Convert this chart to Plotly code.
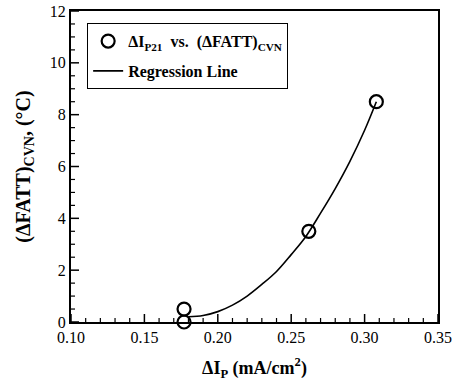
import plotly.graph_objects as go

# data points
dIp = [0.177, 0.177, 0.262, 0.308]
dFATT = [0.0, 0.5, 3.5, 8.5]

# regression line
reg_x = [0.180, 0.19, 0.20, 0.21, 0.22, 0.23, 0.24, 0.25, 0.26, 0.27, 0.28, 0.29, 0.30, 0.308]
reg_y = [0.2, 0.25, 0.4, 0.65, 1.0, 1.45, 1.95, 2.6, 3.3, 4.2, 5.15, 6.2, 7.4, 8.5]

# axis ticks
x_major = [0.10, 0.15, 0.20, 0.25, 0.30, 0.35]
x_minor = [0.11, 0.12, 0.13, 0.14, 0.16, 0.17, 0.18, 0.19, 0.21, 0.22, 0.23, 0.24,
           0.26, 0.27, 0.28, 0.29, 0.31, 0.32, 0.33, 0.34]
y_major = [0, 2, 4, 6, 8, 10, 12]
y_minor = [0.5, 1, 1.5, 2.5, 3, 3.5, 4.5, 5, 5.5, 6.5, 7, 7.5, 8.5, 9, 9.5,
           10.5, 11, 11.5]

FONT = "Liberation Serif"

W, H = 452, 390
ML, MR, MT, MB = 71, 14, 11, 68
PW, PH = W - ML - MR, H - MT - MB

fig = go.Figure()
fig.add_trace(go.Scatter(
    x=dIp, y=dFATT, mode="markers", legendgroup="a",
    name="<b>ΔI<sub>P21</sub>  vs.  (ΔFATT)<sub>CVN</sub></b>",
    marker=dict(symbol="circle-open", size=13, color="black", line=dict(width=2.2, color="black")),
    cliponaxis=False,
))
fig.add_trace(go.Scatter(
    x=reg_x, y=reg_y, mode="lines", name="<b>Regression Line</b>", legendgroup="b",
    line=dict(color="black", width=1.6, shape="spline"),
))

# tick marks drawn inside the frame as shapes (axis-anchored)
shapes = []
for v, L, w in [(t, 8, 1.5) for t in x_major] + [(t, 4, 1.2) for t in x_minor]:
    shapes.append(dict(type="line", xref="x", yref="paper", x0=v, x1=v, y0=0, y1=L / PH,
                       line=dict(color="black", width=w), layer="above"))
for v, L, w in [(t, 8, 1.5) for t in y_major] + [(t, 4, 1.2) for t in y_minor]:
    shapes.append(dict(type="line", xref="paper", yref="y", x0=0, x1=L / PW, y0=v, y1=v,
                       line=dict(color="black", width=w), layer="above"))

fig.update_layout(
    width=W, height=H,
    margin=dict(l=ML, r=MR, t=MT, b=MB),
    template="none",
    paper_bgcolor="white", plot_bgcolor="white",
    font=dict(family=FONT, size=16, color="black"),
    shapes=shapes,
    legend=dict(x=0.044, y=0.961, xanchor="left", yanchor="top",
                bgcolor="white", bordercolor="black", borderwidth=1,
                traceorder="grouped", tracegroupgap=6),
    xaxis=dict(
        range=[0.10, 0.35], tickvals=x_major, tickformat=".2f",
        ticks="", showgrid=False, zeroline=False,
        showline=True, linecolor="black", linewidth=2, mirror=True,
        tickprefix="<b>", ticksuffix="</b>",
        title=dict(text="<b>ΔI<sub>P</sub> (mA/cm<sup>2</sup>)</b>", font=dict(size=18), standoff=16),
    ),
    yaxis=dict(
        range=[0, 12], tickvals=y_major,
        ticks="", showgrid=False, zeroline=False,
        showline=True, linecolor="black", linewidth=2, mirror=True,
        tickprefix="<b>", ticksuffix="</b>",
        title=dict(text="<b>(ΔFATT)<sub>CVN</sub>, (°C)</b>", font=dict(size=20), standoff=14),
    ),
)

fig.write_html("out.html")
